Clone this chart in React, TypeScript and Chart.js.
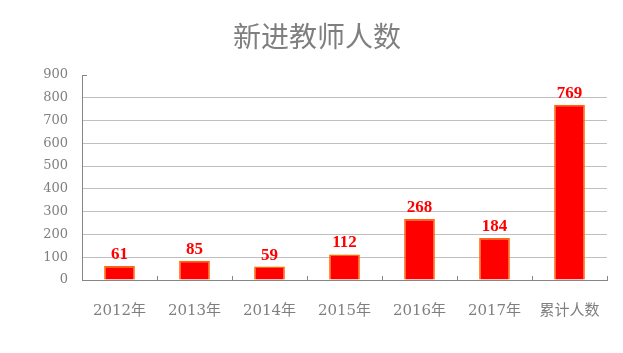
import React, { useEffect, useRef } from "react";
import { Chart, registerables } from "chart.js";

Chart.register(...registerables);

const categories = ["2012年", "2013年", "2014年", "2015年", "2016年", "2017年", "累计人数"];
const teachers = [61, 85, 59, 112, 268, 184, 769];
const yTicks = [0, 100, 200, 300, 400, 500, 600, 700, 800, 900];
const titleText = "新进教师人数";

const FONT = "'Liberation Serif', 'Noto Sans CJK SC', serif";
const TICK_FONT = "'DejaVu Serif', 'Noto Sans CJK SC', serif";

const labelPlugin = {
  id: "decor",
  afterDatasetsDraw(chart: any) {
    const ctx = chart.ctx;
    const meta = chart.getDatasetMeta(0);
    ctx.save();
    ctx.fillStyle = "#FF0000";
    ctx.font = `bold 17px ${FONT}`;
    ctx.textAlign = "center";
    ctx.textBaseline = "alphabetic";
    meta.data.forEach((bar: any, i: number) => {
      ctx.fillText(String(teachers[i]), bar.x, bar.y - 7);
    });
    // x axis inward tick marks at category boundaries
    const area = chart.chartArea;
    ctx.strokeStyle = "#868686";
    ctx.lineWidth = 1;
    const n = categories.length;
    const w = (area.right - area.left) / n;
    for (let k = 1; k <= n; k++) {
      const x = Math.round(area.left + w * k) + 0.5;
      ctx.beginPath();
      ctx.moveTo(x, area.bottom);
      ctx.lineTo(x, area.bottom - 4);
      ctx.stroke();
    }
    // small stub at top of y axis
    ctx.beginPath();
    ctx.moveTo(area.left, Math.round(area.top) + 0.5);
    ctx.lineTo(area.left + 5, Math.round(area.top) + 0.5);
    ctx.stroke();
    // title
    ctx.fillStyle = "#7F7F7F";
    ctx.font = `28px 'Noto Sans CJK SC', serif`;
    ctx.textAlign = "center";
    ctx.textBaseline = "middle";
    ctx.fillText(titleText, 317, 36);
    ctx.restore();
  },
};

export default function App() {
  const ref = useRef<HTMLCanvasElement>(null);
  useEffect(() => {
    if (!ref.current) return;
    const chart = new Chart(ref.current, {
      type: "bar",
      data: {
        labels: categories,
        datasets: [
          {
            data: teachers,
            backgroundColor: "#FF0000",
            borderColor: "#FF6A00",
            borderWidth: 1.5,
            categoryPercentage: 1,
            barPercentage: 0.41,
          },
        ],
      },
      plugins: [labelPlugin],
      options: {
        animation: false,
        responsive: false,
        devicePixelRatio: 1,
        layout: { padding: { top: 75, right: 16, left: 0, bottom: 0 } },
        plugins: {
          legend: { display: false },
          title: { display: false },
          tooltip: { enabled: false },
        },
        scales: {
          x: {
            afterFit(scale: any) {
              scale.height = 73;
            },
            grid: { display: false },
            border: { display: true, color: "#868686", width: 1 },
            ticks: {
              color: "#7F7F7F",
              font: { family: TICK_FONT, size: 15 },
              padding: 14,
              maxRotation: 0,
            },
          },
          y: {
            min: 0,
            max: 900,
            afterFit(scale: any) {
              scale.width = 82;
            },
            afterBuildTicks(scale: any) {
              scale.ticks = yTicks.map((v) => ({ value: v }));
            },
            grid: {
              color: (c: any) =>
                c.tick && (c.tick.value === 900 || c.tick.value === 0) ? "rgba(0,0,0,0)" : "#BFBFBF",
              tickLength: 0,
              lineWidth: 1,
            },
            border: { display: true, color: "#868686", width: 1 },
            ticks: {
              color: "#7F7F7F",
              font: { family: TICK_FONT, size: 13 },
              padding: 14,
            },
          },
        },
      },
    });
    return () => chart.destroy();
  }, []);
  return (
    <div style={{ position: "absolute", left: 0, top: 0, width: 623, height: 353, background: "#fff" }}>
      <canvas ref={ref} width={623} height={353} style={{ width: 623, height: 353 }} />
    </div>
  );
}
